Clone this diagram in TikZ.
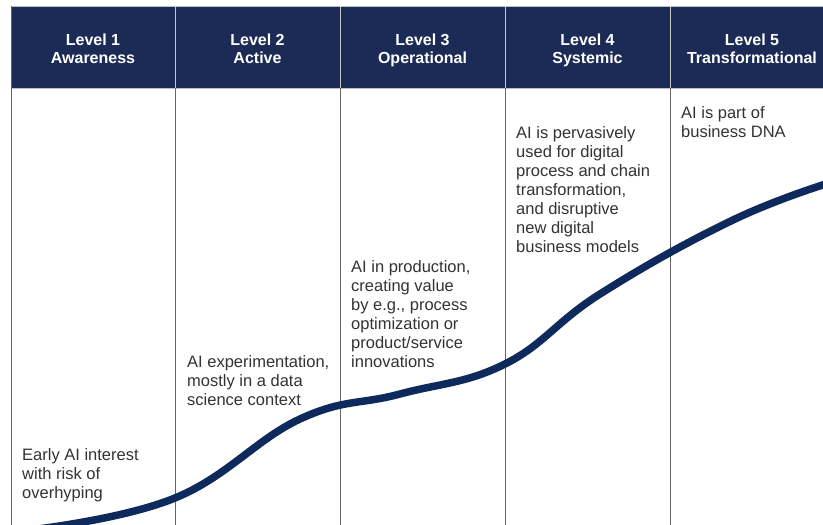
\documentclass[tikz,border=0pt]{standalone}
\usepackage{fontspec}
\setmainfont{Liberation Sans}
\definecolor{navy}{HTML}{1C2B56}
\definecolor{curvenavy}{HTML}{0E2A5C}
\definecolor{txtgray}{HTML}{333333}
\begin{document}
\begin{tikzpicture}[x=1pt,y=-1pt,
  hdr/.style={anchor=north,inner sep=0pt,align=center,text=white,
    font=\fontsize{16}{18.5}\selectfont\bfseries},
  desc/.style={anchor=north west,inner sep=0pt,align=left,text=txtgray,
    font=\fontsize{16.5}{19}\selectfont}]
\useasboundingbox (0,0) rectangle (823,525);
\clip (0,0) rectangle (823,525);
\fill[white] (0,0) rectangle (823,525);
\filldraw[fill=navy,draw=gray!50] (11,6) rectangle (840,88); % header band
\draw[gray!80!black,line width=.6pt] (11,6) -- (11,530); % left edge
\foreach \x in {175,340,505,670} { % column lines
  \draw[gray!45,line width=.6pt] (\x,6) -- (\x,88);
  \draw[gray!80!black,line width=.6pt] (\x,88) -- (\x,530);
}
% levels
\node[hdr] (lv1) at (93,33.5) {Level 1\\Awareness};
\node[hdr] (lv2) at (257.5,33.5) {Level 2\\Active};
\node[hdr] (lv3) at (422.5,33.5) {Level 3\\Operational};
\node[hdr] (lv4) at (587.5,33.5) {Level 4\\Systemic};
\node[hdr] (lv5) at (752,33.5) {Level 5\\Transformational};
% descriptions
\node[desc] (d1) at (22,448) {Early AI interest\\with risk of\\overhyping};
\node[desc] (d2) at (187,355) {AI experimentation,\\mostly in a data\\science context};
\node[desc] (d3) at (351,260) {AI in production,\\creating value\\by e.g., process\\optimization or\\product/service\\innovations};
\node[desc] (d4) at (516,126) {AI is pervasively\\used for digital\\process and chain\\transformation,\\and disruptive\\new digital\\business models};
\node[desc] (d5) at (681,106) {AI is part of\\business DNA};
% maturity curve
\draw[curvenavy,line width=7.5pt] plot[smooth,tension=0.7] coordinates {
  (30,530) (175,498) (300,419) (400,394) (505,364) (600,294) (733,220) (835,181)};
\end{tikzpicture}
\end{document}
